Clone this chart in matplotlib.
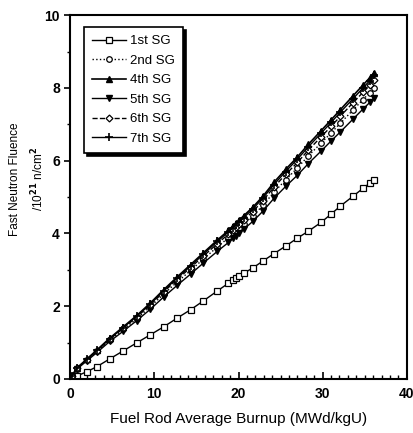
import numpy as np
import matplotlib
matplotlib.use('Agg')
import matplotlib.pyplot as plt
from matplotlib.ticker import MultipleLocator

plt.rcParams['font.family'] = ['Liberation Sans', 'DejaVu Sans']
plt.rcParams['font.weight'] = 'bold'

# burnup points (MWd/kgU), shared by all sub-groups
burnup = [0, 0.2, 0.8, 2.0, 3.2, 4.7, 6.3, 7.9, 9.5, 11.1, 12.7, 14.3, 15.8, 17.5, 18.8, 19.3,
          19.7, 20.1, 20.6, 21.7, 22.9, 24.2, 25.6, 27.0, 28.3, 29.8, 31.0, 32.1, 33.6, 34.8, 35.6, 36.1]

# fast neutron fluence (1e21 n/cm2)
sg1 = [0, 0.02, 0.08, 0.2, 0.34, 0.55, 0.77, 0.99, 1.21, 1.43, 1.67, 1.9, 2.14, 2.42, 2.63, 2.71,
       2.77, 2.83, 2.9, 3.05, 3.24, 3.44, 3.65, 3.87, 4.06, 4.3, 4.53, 4.75, 5.02, 5.24, 5.38, 5.47]
sg2 = [0, 0.07, 0.28, 0.52, 0.76, 1.06, 1.36, 1.65, 1.98, 2.33, 2.66, 2.98, 3.29, 3.63, 3.88, 3.99,
       4.07, 4.15, 4.26, 4.48, 4.77, 5.13, 5.47, 5.8, 6.13, 6.48, 6.76, 7.03, 7.39, 7.68, 7.87, 8.0]
sg4 = [0, 0.08, 0.3, 0.55, 0.8, 1.12, 1.43, 1.74, 2.08, 2.45, 2.8, 3.14, 3.46, 3.82, 4.08, 4.2,
       4.28, 4.37, 4.48, 4.72, 5.02, 5.4, 5.76, 6.1, 6.45, 6.82, 7.12, 7.4, 7.78, 8.08, 8.28, 8.42]
sg5 = [0, 0.07, 0.27, 0.5, 0.73, 1.03, 1.31, 1.6, 1.91, 2.25, 2.57, 2.88, 3.18, 3.51, 3.75, 3.86,
       3.93, 4.01, 4.11, 4.33, 4.61, 4.96, 5.29, 5.6, 5.92, 6.26, 6.54, 6.79, 7.14, 7.42, 7.6, 7.73]
sg6 = [0, 0.08, 0.29, 0.53, 0.78, 1.09, 1.39, 1.7, 2.03, 2.39, 2.73, 3.06, 3.37, 3.72, 3.98, 4.09,
       4.17, 4.26, 4.37, 4.6, 4.9, 5.27, 5.62, 5.95, 6.29, 6.65, 6.94, 7.22, 7.59, 7.88, 8.07, 8.22]
sg7 = [0, 0.08, 0.29, 0.54, 0.79, 1.1, 1.41, 1.72, 2.05, 2.42, 2.77, 3.1, 3.42, 3.78, 4.04, 4.15,
       4.23, 4.32, 4.43, 4.67, 4.97, 5.34, 5.7, 6.04, 6.38, 6.75, 7.05, 7.33, 7.7, 8.0, 8.2, 8.35]

labels = ['1st SG', '2nd SG', '4th SG', '5th SG', '6th SG', '7th SG']

fig = plt.figure(figsize=(4.13, 4.33), dpi=100)
ax = fig.add_axes([0.17, 0.125, 0.815, 0.84])

ax.plot(burnup, sg1, '-', color='k', lw=1, marker='s', ms=4, mfc='white', mec='k', mew=0.9, label=labels[0])
ax.plot(burnup, sg2, ':', color='k', lw=1, marker='o', ms=4, mfc='white', mec='k', mew=0.9, label=labels[1])
ax.plot(burnup, sg4, '-', color='k', lw=1.2, marker='^', ms=4.5, mfc='k', mec='k', label=labels[2])
ax.plot(burnup, sg5, '-', color='k', lw=1, marker='v', ms=4.5, mfc='k', mec='k', label=labels[3])
ax.plot(burnup, sg6, '--', color='k', lw=1, marker='D', ms=3.5, mfc='white', mec='k', mew=0.9, label=labels[4])
ax.plot(burnup, sg7, '-', color='k', lw=1, marker='+', ms=6, mec='k', mew=1.2, label=labels[5])

ax.set_xlim(0, 40)
ax.set_ylim(0, 10)
ax.xaxis.set_major_locator(MultipleLocator(10))
ax.xaxis.set_minor_locator(MultipleLocator(1))
ax.yaxis.set_major_locator(MultipleLocator(2))
ax.yaxis.set_minor_locator(MultipleLocator(1))
ax.tick_params(axis='x', which='major', direction='in', length=5, width=1.2, labelsize=10, pad=6)
ax.tick_params(axis='x', which='minor', direction='in', length=3, width=1)
ax.tick_params(axis='y', which='major', direction='out', length=4, width=1.2, labelsize=10)
ax.tick_params(axis='y', which='minor', direction='out', length=2.5, width=1)
for s in ax.spines.values():
    s.set_linewidth(1.5)

ax.set_xlabel('Fuel Rod Average Burnup (MWd/kgU)', fontsize=11, fontweight='normal', labelpad=8)
ax.set_ylabel('Fast Neutron Fluence\n/10$^{21}$ n/cm$^2$', fontsize=8.5, fontweight='normal',
              linespacing=1.7)
ax.yaxis.set_label_coords(-0.07, 0.55)

leg = ax.legend(loc='upper left', bbox_to_anchor=(0.022, 0.985), fontsize=9.5, fancybox=False,
                shadow={'color': 'k', 'alpha': 1}, edgecolor='k', framealpha=1,
                handlelength=2.6, labelspacing=0.55, borderpad=0.6, handletextpad=0.3)
leg.get_frame().set_linewidth(1.2)
for t in leg.get_texts():
    t.set_fontweight('normal')

fig.savefig('out.png', dpi=100)
